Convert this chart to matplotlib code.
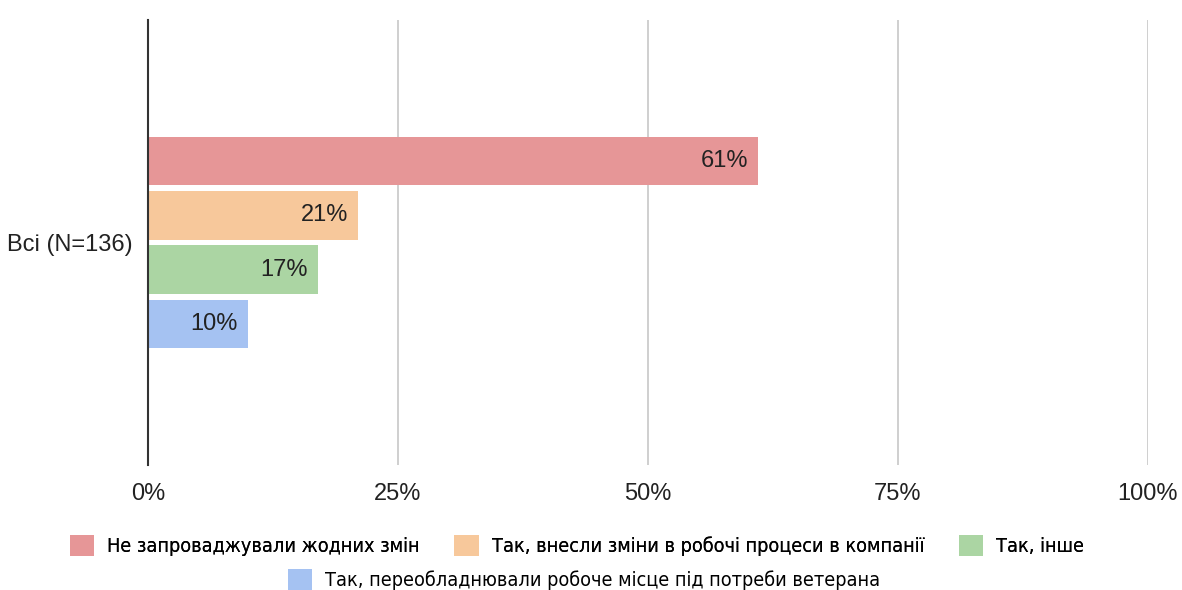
import numpy as np
import matplotlib.pyplot as plt
from matplotlib.patches import Patch

plt.rcParams["font.family"] = ["Liberation Sans", "DejaVu Sans"]

category = "Всі (N=136)"
series = [
    "Не запроваджували жодних змін",
    "Так, внесли зміни в робочі процеси в компанії",
    "Так, інше",
    "Так, переобладнювали робоче місце під потреби ветерана",
]
values = [61, 21, 17, 10]
colors = ["#e69697", "#f7c89b", "#abd5a3", "#a5c2f2"]
ticks = [0, 25, 50, 75, 100]

fig = plt.figure(figsize=(11.82, 5.90), dpi=100)
ax = fig.add_axes([0.1252, 0.212, 0.846, 0.754])

# one category, four bars stacked down within the group band
group_width = 0.487
slot = group_width / len(values)
offsets = -group_width / 2 + slot * (np.arange(len(values)) + 0.5)
for off, v, c in zip(offsets, values, colors):
    ax.barh(off, v, height=slot * 0.89, color=c, edgecolor="none", zorder=3)
    ax.text(v - 1.0, off, f"{v}%", ha="right", va="center",
            fontsize=17, color="#222222", zorder=4)

ax.set_xlim(0, 100)
ax.set_ylim(0.5, -0.5)
ax.set_xticks(ticks)
ax.set_xticklabels([f"{t}%" for t in ticks], fontsize=17, color="#222222")
ax.set_yticks([0])
ax.set_yticklabels([category], fontsize=17, color="#222222")
ax.tick_params(length=0, pad=13)
ax.tick_params(axis="y", pad=11)
ax.grid(axis="x", color="#cccccc", linewidth=1.3, zorder=0)
for s in ["top", "right", "bottom"]:
    ax.spines[s].set_visible(False)
ax.spines["left"].set_color("#333333")
ax.spines["left"].set_linewidth(1.5)
ax.spines["left"].set_zorder(5)

handles = [Patch(facecolor=c, edgecolor="none") for c in colors]
leg_kw = dict(frameon=False, handlelength=1.25, handleheight=1.3,
              handletextpad=0.65, columnspacing=1.75,
              prop={"family": ["DejaVu Sans"], "stretch": "condensed", "size": 14.2})
leg1 = fig.legend(handles[:3], series[:3], ncol=3, loc="center",
                  bbox_to_anchor=(0.488, 0.075), **leg_kw)
fig.add_artist(leg1)
fig.legend(handles[3:], series[3:], ncol=1, loc="center",
           bbox_to_anchor=(0.494, 0.018), **leg_kw)

fig.savefig("out.png", dpi=100)
